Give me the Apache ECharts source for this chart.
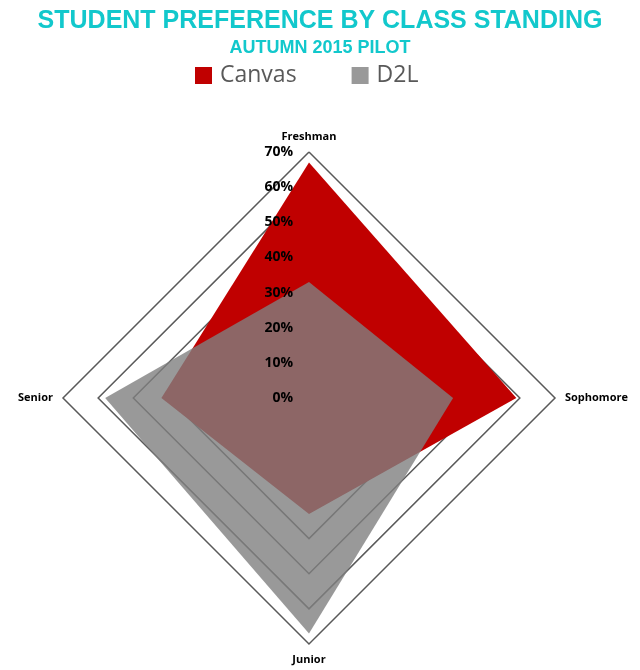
<!DOCTYPE html>
<html>
	<head>
		<meta charset="utf-8">
		<title>Student preference</title>
		<script src="https://cdn.jsdelivr.net/npm/echarts@6/dist/echarts.min.js"></script>
		<style>
			html, body { margin: 0; padding: 0; background: #fff; }
			#chart { width: 640px; height: 670px; }
		</style>
	</head>
	<body>
		<div id="chart"></div>
		<script>
			// indicator order as echarts draws it (top, then counter-clockwise)
			var categories = ['Freshman', 'Senior', 'Junior', 'Sophomore'];
			var canvasData = [67, 42, 33, 59];
			var d2lData = [33, 58, 67, 41];
			var maxValue = 70;

			var chart = echarts.init(document.getElementById('chart'));

			var baseIndicators = categories.map(function(name) {
				return { name: name, min: 0, max: maxValue };
			});
			// second radar only for the % labels, so they sit above the fills
			var labelIndicators = categories.map(function(name, i) {
				var ind = { name: name, min: 0, max: maxValue };
				if (i == 0) {
					ind.axisLabel = { show: true };
				}
				return ind;
			});

			var labelFont = {
				color: '#000',
				fontFamily: 'Open Sans',
				fontWeight: 'bold',
				fontSize: 14
			};

			var option = {
				animation: false,
				title: {
					text: 'STUDENT PREFERENCE BY CLASS STANDING',
					subtext: 'AUTUMN 2015 PILOT',
					left: 'center',
					top: 4,
					itemGap: 5,
					textStyle: {
						color: '#12c8cc',
						fontFamily: 'Liberation Sans',
						fontWeight: 'bold',
						fontSize: 25
					},
					subtextStyle: {
						color: '#12c8cc',
						fontFamily: 'Liberation Sans',
						fontWeight: 'bold',
						fontSize: 18
					}
				},
				legend: {
					top: 59,
					left: 190,
					itemWidth: 17,
					itemHeight: 17,
					itemGap: 55,
					icon: 'rect',
					textStyle: {
						color: '#595959',
						fontFamily: 'Open Sans',
						fontSize: 23,
						padding: [0, 0, 0, 3]
					},
					data: ['Canvas', 'D2L']
				},
				radar: [{
					center: [309, 398],
					radius: 246,
					startAngle: 90,
					splitNumber: 7,
					shape: 'polygon',
					nameGap: 10,
					axisName: {
						color: '#000',
						fontFamily: 'Open Sans',
						fontWeight: 'bold',
						fontSize: 11
					},
					axisLine: { show: false },
					axisTick: { show: false },
					axisLabel: { show: false },
					splitLine: {
						lineStyle: { color: '#595959', width: 1.5 }
					},
					splitArea: { show: false },
					indicator: baseIndicators
				}, {
					center: [309, 398],
					radius: 246,
					startAngle: 90,
					splitNumber: 7,
					shape: 'polygon',
					z: 10,
					axisName: { show: false },
					axisLine: { show: false },
					axisTick: { show: false },
					axisLabel: {
						show: false,
						color: labelFont.color,
						fontFamily: labelFont.fontFamily,
						fontWeight: labelFont.fontWeight,
						fontSize: labelFont.fontSize,
						margin: 16,
						formatter: function(v) { return v + '%'; }
					},
					splitLine: { show: false },
					splitArea: { show: false },
					indicator: labelIndicators
				}],
				series: [{
					type: 'radar',
					radarIndex: 0,
					symbol: 'none',
					data: [{
						name: 'Canvas',
						value: canvasData,
						lineStyle: { width: 0 },
						itemStyle: { color: '#c00000' },
						areaStyle: { color: '#c00000', opacity: 1 }
					}, {
						name: 'D2L',
						value: d2lData,
						lineStyle: { width: 0 },
						itemStyle: { color: 'rgba(128,128,128,0.8)' },
						areaStyle: { color: 'rgba(128,128,128,0.8)', opacity: 1 }
					}]
				}]
			};
			chart.setOption(option);
		</script>
	</body>
</html>
